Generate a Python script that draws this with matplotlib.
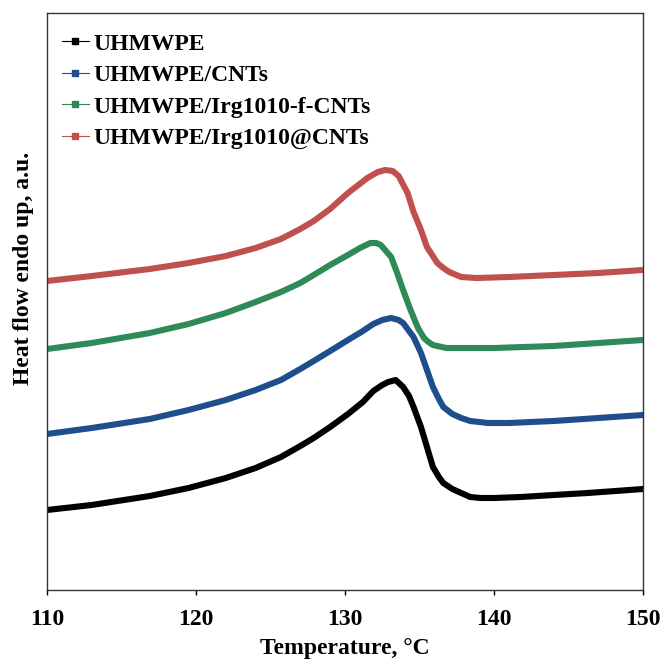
import numpy as np
from matplotlib import pyplot as plt
from matplotlib.lines import Line2D

plt.rcParams['font.family'] = ['Liberation Serif', 'DejaVu Serif']
plt.rcParams['font.weight'] = 'bold'

# DSC curves (heat flow in arbitrary units)
t_black = [110, 113, 116.9, 119.5, 122, 124, 125.7, 127, 127.9, 129, 130.2, 131.2, 131.9, 132.5, 132.9, 133.4,
           133.9, 134.3, 134.6, 135.1, 135.5, 135.9, 136.3, 136.6, 137.2, 137.8, 138.4, 139.1, 140, 141.8, 144,
           146.3, 150]
hf_black = [0.88, 0.93, 1.02, 1.10, 1.20, 1.30, 1.41, 1.52, 1.60, 1.71, 1.84, 1.96, 2.07, 2.13, 2.16, 2.18,
            2.11, 2.02, 1.91, 1.71, 1.51, 1.31, 1.21, 1.15, 1.09, 1.05, 1.01, 1.00, 1.00, 1.01, 1.03,
            1.05, 1.09]

t_blue = [110, 113, 116.9, 119.5, 122, 124, 125.7, 127, 127.9, 129, 130.2, 131.2, 131.9, 132.5, 133.1, 133.6,
          133.9, 134.6, 135.1, 135.5, 135.9, 136.3, 136.6, 137.2, 137.8, 138.4, 139.6, 141, 144, 147, 150]
hf_blue = [1.64, 1.70, 1.79, 1.88, 1.98, 2.08, 2.18, 2.29, 2.37, 2.47, 2.58, 2.67, 2.74, 2.78, 2.80, 2.78,
           2.75, 2.61, 2.45, 2.28, 2.11, 1.99, 1.91, 1.84, 1.80, 1.77, 1.75, 1.75, 1.77, 1.80, 1.83]

t_green = [110, 113, 116.9, 119.5, 122, 124, 125.7, 127, 127.9, 129, 130.2, 131, 131.7, 132.1, 132.4, 133.1,
           133.5, 133.9, 134.4, 134.9, 135.3, 135.6, 135.9, 136.8, 137.8, 140, 144, 147, 150]
hf_green = [2.49, 2.55, 2.65, 2.74, 2.85, 2.96, 3.06, 3.15, 3.23, 3.33, 3.43, 3.50, 3.55, 3.55, 3.53, 3.41,
            3.25, 3.08, 2.88, 2.70, 2.60, 2.56, 2.53, 2.50, 2.50, 2.50, 2.52, 2.55, 2.58]

t_red = [110, 113, 116.9, 119.5, 122, 124, 125.7, 127, 127.9, 129, 130.2, 131.5, 132.2, 132.7, 133.2, 133.6,
         134.2, 134.6, 135.1, 135.5, 136.2, 136.6, 137, 137.8, 138.8, 141, 144, 147, 150]
hf_red = [3.17, 3.22, 3.29, 3.35, 3.42, 3.50, 3.59, 3.69, 3.77, 3.89, 4.05, 4.20, 4.26, 4.28, 4.27, 4.22,
          4.05, 3.86, 3.68, 3.51, 3.35, 3.30, 3.26, 3.21, 3.20, 3.21, 3.23, 3.25, 3.28]

labels = ['UHMWPE', 'UHMWPE/CNTs', 'UHMWPE/Irg1010-f-CNTs', 'UHMWPE/Irg1010@CNTs']
colors = ['#000000', '#1f4e8c', '#2e8b57', '#c0504d']

fig = plt.figure(figsize=(6.61, 6.59), dpi=100)
ax = fig.add_axes([47 / 661, 1 - 590 / 659, 596 / 661, 577 / 659])

series = [(t_black, hf_black), (t_blue, hf_blue), (t_green, hf_green), (t_red, hf_red)]
for (t, hf), c in zip(series, colors):
    ax.plot(t, hf, color=c, linewidth=4.4, solid_joinstyle='round')

ax.set_xlim(110, 150)
ax.set_ylim(0.08, 5.85)
ax.set_xticks(np.arange(110, 151, 10))
ax.set_yticks([])
ax.tick_params(axis='x', direction='out', length=3.6, width=1, labelsize=17, pad=10)
for sp in ax.spines.values():
    sp.set_linewidth(1)
    sp.set_color('#333333')

ax.set_xlabel('Temperature, °C', fontsize=17, fontweight='bold', labelpad=6)
ax.set_ylabel('Heat flow endo up, a.u.', fontsize=17, fontweight='bold')
ax.yaxis.set_label_coords(-0.022, 0.558)

handles = [Line2D([0], [0], color=c, linewidth=0.8, marker='s', markersize=4) for c in colors]
ax.legend(handles, labels, loc='upper left', bbox_to_anchor=(0.025, 0.965), frameon=False,
          prop={'size': 17, 'weight': 'bold'}, handlelength=1.15, handletextpad=0.17,
          labelspacing=0.42, borderpad=0, borderaxespad=0)

plt.savefig('out.png', dpi=100)
